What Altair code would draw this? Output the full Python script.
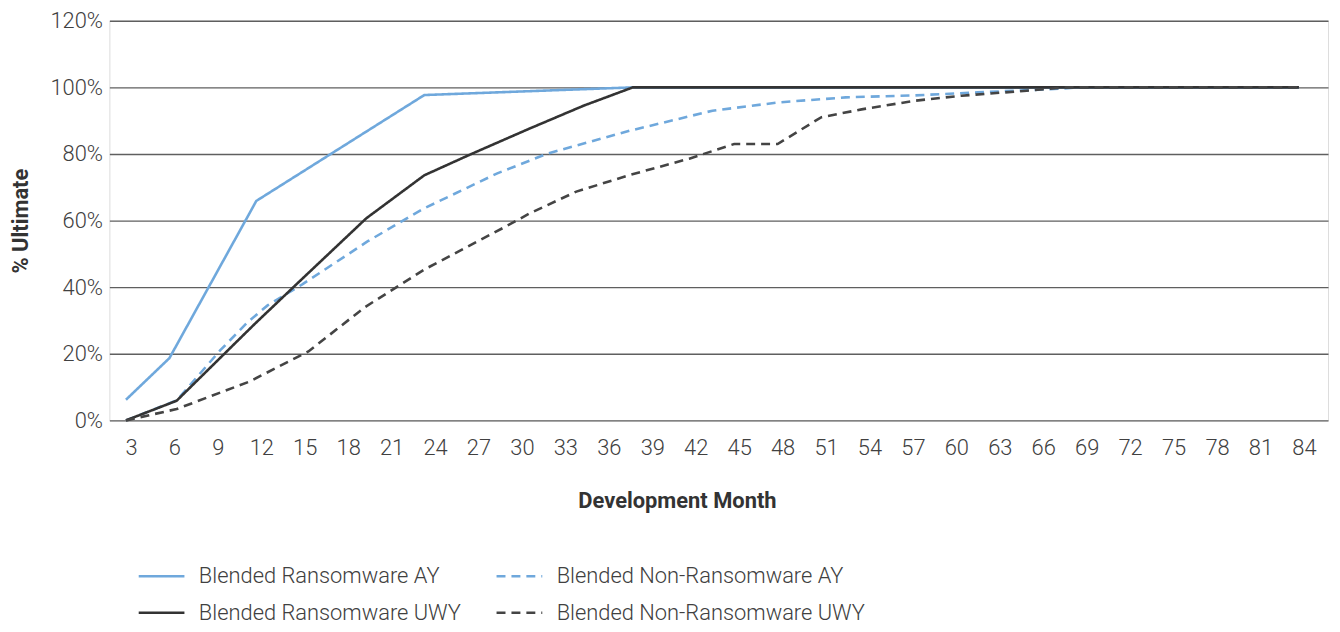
import altair as alt
import pandas as pd

# ---- data ----
series_names = [
    "Blended Ransomware AY",
    "Blended Non-Ransomware AY",
    "Blended Ransomware UWY",
    "Blended Non-Ransomware UWY",
]

months_r_ay = [3, 6, 12, 23.6, 38.0, 84]
vals_r_ay = [6.2, 18.7, 65.9, 97.7, 100, 100]

months_nr_ay = [3, 6.5, 9.5, 11.4, 12.8, 15.2, 19.7, 23.6, 28.6, 32.1, 37.8, 43.5, 48.1, 52.7, 57.5, 61.8, 67.5, 68.6, 84]
vals_nr_ay = [0, 6.0, 21.0, 29.5, 34.6, 40.9, 53.8, 63.7, 74.1, 80.1, 87.0, 93.0, 95.5, 97.0, 97.6, 98.5, 99.6, 100, 100]

months_r_uwy = [3, 6.5, 11.9, 14.9, 19.6, 23.6, 26.8, 30.8, 34.6, 38.0, 84]
vals_r_uwy = [0, 5.9, 29.0, 41.4, 60.7, 73.6, 79.9, 87.5, 94.5, 100, 100]

months_nr_uwy = [3, 6.5, 11.5, 15.6, 19.5, 23.6, 29.0, 30.9, 34.1, 37.8, 41.9, 45, 48, 51, 53.8, 57.5, 60.7, 65.2, 68.0, 84]
vals_nr_uwy = [0, 3.4, 11.6, 20.7, 34.0, 45.3, 57.7, 62.2, 68.7, 73.7, 78.6, 83.0, 83.0, 91.0, 93.4, 96.0, 97.5, 99.0, 100, 100]

x_ticks = list(range(3, 85, 3))
y_ticks = [0, 20, 40, 60, 80, 100, 120]

colors = ["#6FA8DC", "#6FA8DC", "#333333", "#444444"]
dashes = [[1, 0], [9, 6], [1, 0], [9, 6]]

rows = []
for name, ms, vs in [
    (series_names[0], months_r_ay, vals_r_ay),
    (series_names[1], months_nr_ay, vals_nr_ay),
    (series_names[2], months_r_uwy, vals_r_uwy),
    (series_names[3], months_nr_uwy, vals_nr_uwy),
]:
    for m, v in zip(ms, vs):
        rows.append({"series": name, "month": m, "value": v})
df = pd.DataFrame(rows)

FONT = "Roboto"
TXT = "#404040"
FS = 22


def make_legend():
    return alt.Legend(
        title=None,
        orient="none",
        direction="horizontal",
        legendX=28,
        legendY=534,
        columns=2,
        columnPadding=30,
        rowPadding=1,
        symbolType="stroke",
        symbolSize=2116,
        symbolStrokeWidth=2.6,
        labelOffset=13,
        labelFont=FONT,
        labelFontWeight=300,
        labelFontSize=FS,
        labelColor=TXT,
        labelLimit=400,
    )


chart = (
    alt.Chart(df)
    .mark_line(strokeWidth=2.6)
    .encode(
        x=alt.X(
            "month:Q",
            scale=alt.Scale(domain=[1.854, 86.01], nice=False, zero=False),
            axis=alt.Axis(
                values=x_ticks,
                title="Development Month",
                grid=False,
                domain=False,
                ticks=False,
                labelPadding=17,
                labelOffset=5,
                labelFontSize=FS,
                labelFont=FONT,
                labelFontWeight=300,
                labelColor=TXT,
                titleFont=FONT,
                titleFontSize=FS,
                titleFontWeight="bold",
                titleColor="#333333",
                titleX=571,
                titleY=81,
                titleAlign="center",
                titleBaseline="middle",
                labelFlush=False,
                labelOverlap=False,
            ),
        ),
        y=alt.Y(
            "value:Q",
            scale=alt.Scale(domain=[0, 120], nice=False),
            axis=alt.Axis(
                values=y_ticks,
                labelExpr="datum.value + '%'",
                title="% Ultimate",
                grid=True,
                gridColor="#5f5f5f",
                gridWidth=1.4,
                domain=False,
                ticks=False,
                labelPadding=7,
                labelFontSize=FS,
                labelFont=FONT,
                labelFontWeight=300,
                labelColor=TXT,
                titleFont=FONT,
                titleFontSize=FS,
                titleFontWeight="bold",
                titleColor="#333333",
                titleX=-89,
                titleBaseline="middle",
                labelFlush=False,
            ),
        ),
        color=alt.Color(
            "series:N",
            scale=alt.Scale(domain=series_names, range=colors),
            legend=make_legend(),
        ),
        strokeDash=alt.StrokeDash(
            "series:N",
            scale=alt.Scale(domain=series_names, range=dashes),
            legend=make_legend(),
        ),
    )
    .properties(
        width=1226,
        height=402,
        autosize=alt.AutoSizeParams(type="none"),
        padding={"left": 102, "top": 11, "right": 4, "bottom": 203},
    )
    .configure_view(stroke=None)
    .configure(background="white")
)

chart.save("out.html", embed_options={"renderer": "svg", "actions": False})
